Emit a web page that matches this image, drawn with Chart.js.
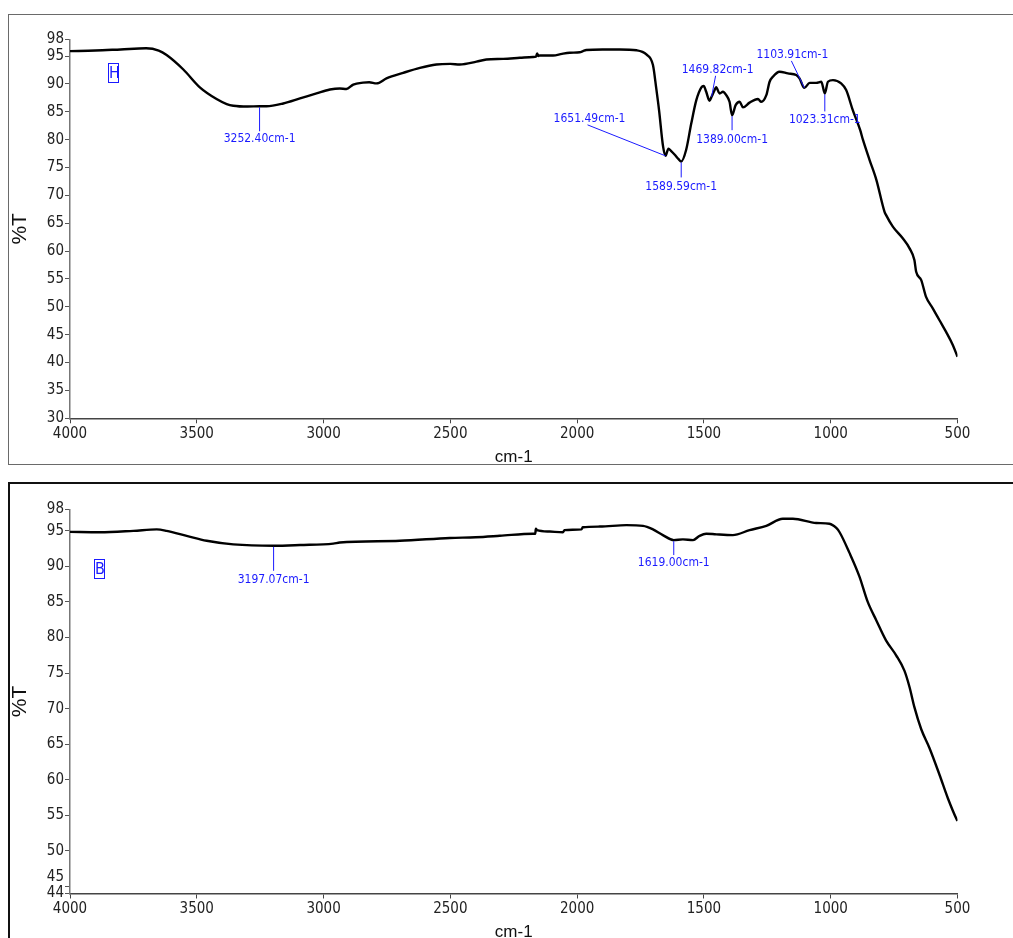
<!DOCTYPE html>
<html><head><meta charset="utf-8">
<script src="https://cdn.jsdelivr.net/npm/chart.js@4.4.0/dist/chart.umd.min.js"></script>
<style>
html,body{margin:0;padding:0;background:#fff;overflow:hidden;width:1013px;height:938px;position:relative;}
canvas{position:absolute;left:0;}
#cTop{top:0;}
#cBot{top:470px;}
.frame{position:absolute;box-sizing:border-box;}
#frameTop{left:8px;top:14px;width:1030px;height:451px;border:1px solid #6a6a6a;}
#frameBot{left:8px;top:482px;width:1030px;height:480px;border:2px solid #111;}
.tag{position:absolute;color:#1a1aff;border:1px solid #1a1aff;font:16px 'Liberation Sans Narrow','Arial Narrow','DejaVu Sans Condensed',sans-serif;line-height:18px;height:18px;width:9px;text-align:center;}
</style>
</head><body>
<div class="frame" id="frameTop"></div>
<div class="frame" id="frameBot"></div>
<canvas id="cTop" width="1013" height="470"></canvas>
<canvas id="cBot" width="1013" height="480"></canvas>
<div class="tag" style="left:108px;top:63px;">H</div>
<div class="tag" style="left:94px;top:559px;">B</div>
<script>
// ---- data: sample H (top) ----
const wnTop = [4000,3900,3800,3700,3650,3619,3553,3488,3422,3382,3356,3300,3252.40,3225,3159,3093,3028,2975,2936,2910,2883,2844,2820,2791,2752,2686,2620,2555,2500,2463,2397,2358,2292,2226,2174,2162,2158,2153,2148,2095,2060,2029,1990,1977,1964,1900,1832,1766,1727,1701,1688,1677,1661,1651.49,1640,1630,1615,1600,1589.59,1570,1550,1530,1510,1501,1491,1478,1469.82,1458,1452,1438,1425,1412,1399,1389.00,1375,1359,1346,1320,1287,1274,1254,1241,1228,1202,1169,1136,1123,1103.91,1083,1057,1037,1023.31,1011,991,959,939,913,884,873,847,820,788,782,755,716,689,670,663,643,624,597,571,545,519,500];
const tTop = [95.9,96.0,96.2,96.4,96.0,95.2,92.6,89.4,87.3,86.4,86.1,85.95,86.0,86.0,86.5,87.4,88.3,89.0,89.2,89.1,89.9,90.24,90.3,90.1,91.0,92.0,92.9,93.5,93.6,93.5,94.0,94.4,94.5,94.7,94.85,94.9,95.5,95.0,95.1,95.1,95.4,95.6,95.7,95.9,96.1,96.2,96.2,96.05,95.3,93.4,89.2,85.3,78.75,77.1,78.4,78.0,77.3,76.5,76.1,78.2,82.9,87.1,89.4,89.65,88.6,87.0,87.7,88.9,89.4,88.3,88.6,88.0,86.8,84.4,86.2,86.8,85.8,86.65,87.3,86.8,88.0,90.4,91.3,92.2,91.9,91.6,91.0,89.3,90.2,90.2,90.4,88.3,90.4,90.7,90.1,88.9,85.3,81.75,80.0,76.4,72.8,67.1,66.5,64.4,62.3,60.5,58.4,56.3,54.8,51.8,49.7,47.6,45.5,43.2,41.05];
const peakWnTop = [3252.40,1651.49,1589.59,1469.82,1389.00,1103.91,1023.31];
const peakTTop = [86.0,77.1,76.1,87.7,84.4,89.3,88.3];
const yTicksTop = [30,35,40,45,50,55,60,65,70,75,80,85,90,95,98];

// ---- data: sample B (bottom) ----
const wnBot = [4000,3882,3750,3658,3619,3540,3461,3356,3197.07,3093,2962,2936,2699,2502,2400,2305,2174,2165,2163,2158,2108,2056,2050,1983,1978,1911,1806,1740,1701,1662,1619.00,1583,1543,1517,1491,1451,1386,1320,1254,1189,1149,1057,1005,978,965,926,887,854,820,782,742,709,689,670,643,611,571,538,503,500];
const tBot = [94.86,94.8,95.0,95.2,95.0,94.3,93.6,93.1,92.9,93.0,93.2,93.35,93.6,94.0,94.1,94.3,94.6,94.6,95.3,95.1,94.9,94.8,95.1,95.2,95.5,95.6,95.8,95.7,95.2,94.4,93.7,93.8,93.7,94.3,94.6,94.5,94.4,95.1,95.7,96.7,96.7,96.1,96.0,95.4,94.8,91.9,88.6,85.0,82.4,79.6,77.5,75.3,73.0,70.2,67.1,64.5,60.7,57.4,54.4,54.2];
const peakWnBot = [3197.07,1619.00];
const peakTBot = [92.9,93.7];
const yTicksBot = [44,45,50,55,60,65,70,75,80,85,90,95,98];

const xTicks = [4000,3500,3000,2500,2000,1500,1000,500];

// ---- styles ----
const NARROW = "'Liberation Sans Narrow','Arial Narrow','DejaVu Sans Condensed',sans-serif";
const SANS = "'Liberation Sans',Arial,sans-serif";
const BLUE = '#1a1aff';
// label offsets (pixels) relative to each peak point: line start, line end, text centre
const offTop = [
  {l0:[0,1], l1:[0,25], t:[0,33]},
  {l0:[0,0], l1:[-78,-31], t:[-76,-37]},
  {l0:[0,1], l1:[0,16], t:[0,25]},
  {l0:[0,0], l1:[4,-21], t:[6,-27]},
  {l0:[0,1], l1:[0,15], t:[0,25]},
  {l0:[0,0], l1:[-13,-27], t:[-12,-33]},
  {l0:[0,1], l1:[0,18], t:[0,26]}
];
const offBot = [
  {l0:[0,1], l1:[0,25], t:[0,34]},
  {l0:[0,1], l1:[0,15], t:[0,23]}
];

const peakPlugin = {
  id: 'peaks',
  afterDatasetsDraw(chart, args, opts) {
    const {ctx} = chart; const xs = chart.scales.x, ys = chart.scales.y;
    ctx.save();
    ctx.strokeStyle = BLUE; ctx.fillStyle = BLUE; ctx.lineWidth = 1;
    ctx.font = "12px " + NARROW; ctx.textAlign = 'center'; ctx.textBaseline = 'middle';
    opts.wn.forEach((w, i) => {
      const o = opts.off[i];
      const px = xs.getPixelForValue(w), py = ys.getPixelForValue(opts.t[i]);
      ctx.beginPath();
      ctx.moveTo(px + o.l0[0], py + o.l0[1]);
      ctx.lineTo(px + o.l1[0], py + o.l1[1]);
      ctx.stroke();
      ctx.fillText(w.toFixed(2) + 'cm-1', px + o.t[0], py + o.t[1]);
    });
    ctx.restore();
  }
};

function makeChart(id, wn, t, yMin, yMax, yTicks, padTop, xH, peakWn, peakT, off, titlePadB) {
  const pts = wn.map((w, i) => ({x: w, y: t[i]}));
  return new Chart(document.getElementById(id), {
    type: 'line',
    data: {datasets: [{data: pts, borderColor: '#000', borderWidth: 2.4, pointRadius: 0, fill: false, cubicInterpolationMode: 'monotone'}]},
    options: {
      responsive: false, animation: false, devicePixelRatio: 1,
      layout: {padding: {left: 0, right: 55.5, top: padTop, bottom: 0}},
      plugins: {legend: {display: false}, tooltip: {enabled: false}, peaks: {wn: peakWn, t: peakT, off: off}},
      scales: {
        x: {
          type: 'linear', reverse: true, min: 500, max: 4000,
          afterBuildTicks: s => { s.ticks = xTicks.map(v => ({value: v})); },
          afterFit: s => { s.height = xH; },
          ticks: {autoSkip: false, maxRotation: 0, padding: 2, color: '#222', font: {family: NARROW, size: 15}, callback: v => String(v)},
          grid: {drawOnChartArea: false, drawTicks: true, tickLength: 5, tickColor: '#444', tickWidth: 1},
          border: {display: true, color: '#444', width: 1.5},
          title: {display: true, text: 'cm-1', color: '#111', font: {family: SANS, size: 17}, padding: {top: 0, bottom: titlePadB}}
        },
        y: {
          type: 'linear', min: yMin, max: yMax,
          afterBuildTicks: s => { s.ticks = yTicks.map(v => ({value: v})); },
          afterFit: s => { s.width = 70; },
          ticks: {autoSkip: false, padding: 1, color: '#222', font: {family: NARROW, size: 15},
                  callback: v => (v === yMin + 1 ? [String(v), ''] : String(v))},
          grid: {drawOnChartArea: false, drawTicks: true, tickLength: 5, tickColor: '#555', tickWidth: 1},
          border: {display: true, color: '#777', width: 1.5},
          title: {display: true, text: '%T', color: '#111', font: {family: SANS, size: 21}, padding: {top: 8, bottom: 0}}
        }
      }
    },
    plugins: [peakPlugin]
  });
}

makeChart('cTop', wnTop, tTop, 30, 98, yTicksTop, 39.4, 51.7, peakWnTop, peakTTop, offTop, 2);
makeChart('cBot', wnBot, tBot, 44, 98, yTicksBot, 39.5, 56.5, peakWnBot, peakTBot, offBot, 7);
</script>
</body></html>
